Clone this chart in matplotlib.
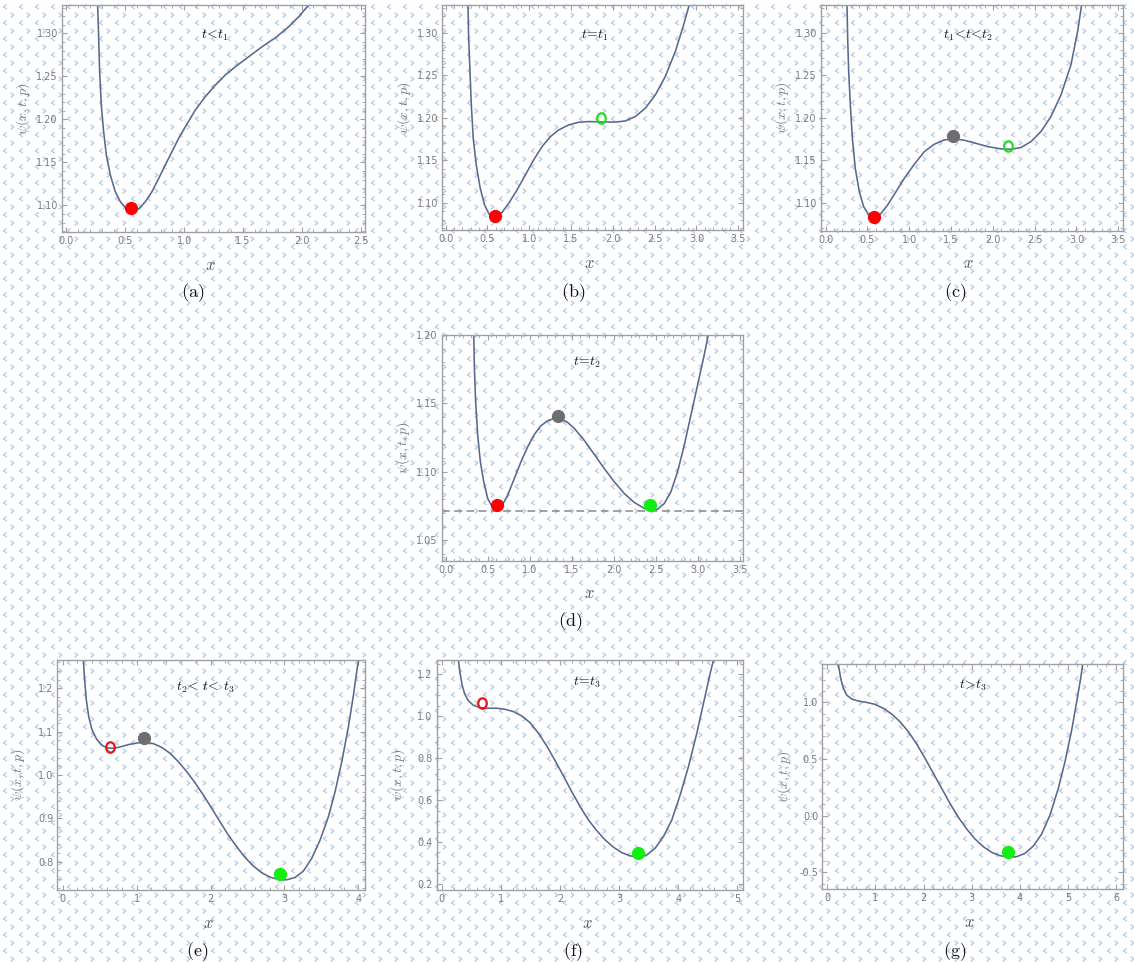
import numpy as np
import matplotlib
matplotlib.use('Agg')
import matplotlib.pyplot as plt
from matplotlib.path import Path
from matplotlib.markers import MarkerStyle
from matplotlib.transforms import Affine2D
from matplotlib.ticker import MultipleLocator, FormatStrFormatter

plt.rcParams['mathtext.fontset'] = 'cm'

W, H = 1134, 963

# psi(x) samples for each stage
xa = [0.265, 0.274, 0.282, 0.296, 0.316, 0.339, 0.373, 0.415, 0.458, 0.500, 0.557,
      0.614, 0.670, 0.727, 0.784, 0.840, 0.897, 0.954, 1.011, 1.095, 1.180, 1.266,
      1.350, 1.436, 1.549, 1.662, 1.776, 1.889, 1.974, 2.059]
ya = [1.3330, 1.2941, 1.2554, 1.2166, 1.1856, 1.1585, 1.1352, 1.1158, 1.1042, 1.0972, 1.0934,
      1.0957, 1.1042, 1.1158, 1.1313, 1.1469, 1.1624, 1.1779, 1.1914, 1.2108, 1.2263, 1.2399,
      1.2515, 1.2612, 1.2728, 1.2844, 1.2949, 1.3077, 1.3193, 1.3330]

xb = [0.267, 0.275, 0.291, 0.307, 0.330, 0.366, 0.414, 0.466, 0.522, 0.594, 0.673,
      0.753, 0.853, 0.952, 1.052, 1.152, 1.252, 1.351, 1.471, 1.591, 1.710, 1.870,
      2.029, 2.149, 2.268, 2.388, 2.508, 2.627, 2.747, 2.847, 2.914]
yb = [1.3334, 1.2940, 1.2547, 1.2153, 1.1760, 1.1445, 1.1170, 1.0973, 1.0863, 1.0835, 1.0886,
      1.0992, 1.1150, 1.1327, 1.1504, 1.1661, 1.1779, 1.1858, 1.1917, 1.1949, 1.1957, 1.1953,
      1.1951, 1.1964, 1.2016, 1.2114, 1.2271, 1.2488, 1.2783, 1.3098, 1.3334]

xc = [0.255, 0.263, 0.275, 0.295, 0.319, 0.354, 0.402, 0.454, 0.522, 0.582, 0.653,
      0.741, 0.841, 0.941, 1.060, 1.180, 1.299, 1.419, 1.539, 1.658, 1.778, 1.938,
      2.097, 2.216, 2.336, 2.456, 2.576, 2.695, 2.815, 2.934, 3.014, 3.062]
yc = [1.3334, 1.2940, 1.2547, 1.2153, 1.1760, 1.1406, 1.1130, 1.0953, 1.0847, 1.0823, 1.0863,
      1.0973, 1.1130, 1.1288, 1.1453, 1.1602, 1.1689, 1.1740, 1.1752, 1.1736, 1.1705, 1.1661,
      1.1634, 1.1630, 1.1650, 1.1720, 1.1839, 1.2016, 1.2271, 1.2626, 1.3019, 1.3334]

xd = [0.333, 0.341, 0.356, 0.380, 0.412, 0.452, 0.499, 0.559, 0.618, 0.677, 0.737,
      0.816, 0.895, 0.975, 1.054, 1.133, 1.212, 1.292, 1.371, 1.450, 1.530, 1.649,
      1.767, 1.886, 2.005, 2.124, 2.243, 2.362, 2.441, 2.521, 2.600, 2.679, 2.758,
      2.838, 2.917, 2.996, 3.075, 3.123]
yd = [1.2000, 1.1756, 1.1512, 1.1268, 1.1073, 1.0927, 1.0805, 1.0737, 1.0727, 1.0761, 1.0829,
      1.0951, 1.1073, 1.1183, 1.1273, 1.1337, 1.1373, 1.1390, 1.1385, 1.1361, 1.1317, 1.1229,
      1.1127, 1.1024, 1.0927, 1.0841, 1.0776, 1.0732, 1.0720, 1.0727, 1.0768, 1.0854, 1.1000,
      1.1195, 1.1415, 1.1634, 1.1854, 1.2000]
level_d = 1.0715

xe = [0.279, 0.297, 0.320, 0.352, 0.397, 0.460, 0.528, 0.604, 0.685, 0.776, 0.889,
      1.001, 1.114, 1.226, 1.339, 1.452, 1.565, 1.678, 1.790, 1.903, 2.016, 2.128,
      2.241, 2.354, 2.467, 2.580, 2.693, 2.805, 2.918, 3.031, 3.144, 3.256, 3.369,
      3.482, 3.595, 3.685, 3.776, 3.866, 3.934, 3.988, 4.006]
ye = [1.265, 1.219, 1.173, 1.1345, 1.1038, 1.0823, 1.0684, 1.0623, 1.0615, 1.0646, 1.0700,
      1.0738, 1.0753, 1.0723, 1.0638, 1.0500, 1.0307, 1.0077, 0.9823, 0.9538, 0.9231, 0.8923,
      0.8616, 0.8347, 0.8101, 0.7901, 0.7747, 0.7647, 0.7593, 0.7585, 0.7639, 0.7785, 0.8078,
      0.8501, 0.9039, 0.9615, 1.0307, 1.1115, 1.1845, 1.2499, 1.265]

xf = [0.281, 0.310, 0.344, 0.389, 0.450, 0.535, 0.648, 0.789, 0.930, 1.071, 1.212,
      1.353, 1.494, 1.635, 1.776, 1.917, 2.058, 2.199, 2.340, 2.481, 2.622, 2.763,
      2.904, 3.045, 3.186, 3.327, 3.468, 3.609, 3.750, 3.891, 4.032, 4.173, 4.314,
      4.427, 4.540, 4.596]
yf = [1.268, 1.205, 1.149, 1.106, 1.074, 1.052, 1.041, 1.038, 1.038, 1.033, 1.022,
      1.001, 0.969, 0.919, 0.858, 0.788, 0.715, 0.640, 0.569, 0.505, 0.454, 0.410,
      0.375, 0.349, 0.334, 0.327, 0.338, 0.370, 0.426, 0.505, 0.624, 0.760, 0.919,
      1.062, 1.205, 1.268]

xg = [0.229, 0.278, 0.334, 0.403, 0.507, 0.645, 0.818, 0.992, 1.165, 1.338, 1.511,
      1.684, 1.858, 2.031, 2.204, 2.377, 2.550, 2.724, 2.897, 3.070, 3.243, 3.416,
      3.590, 3.763, 3.936, 4.109, 4.283, 4.456, 4.629, 4.802, 4.941, 5.080, 5.184,
      5.267, 5.309]
yg = [1.338, 1.212, 1.123, 1.064, 1.029, 1.011, 0.999, 0.982, 0.947, 0.897, 0.829,
      0.741, 0.632, 0.506, 0.373, 0.241, 0.108, -0.015, -0.118, -0.206, -0.274, -0.324,
      -0.353, -0.368, -0.362, -0.333, -0.268, -0.162, 0.005, 0.241, 0.476, 0.756, 1.006,
      1.212, 1.338]

# state markers: (x, y) per kind
red_dots = {'a': (0.552, 1.0972), 'b': (0.594, 1.0847), 'c': (0.582, 1.0835), 'd': (0.610, 1.0756)}
gray_dots = {'c': (1.527, 1.1787), 'd': (1.339, 1.1407), 'e': (1.104, 1.0847)}
green_dots = {'d': (2.430, 1.0756), 'e': (2.940, 0.7716), 'f': (3.327, 0.346), 'g': (3.763, -0.324)}
green_rings = {'b': (1.858, 1.1996), 'c': (2.177, 1.1669)}
red_rings = {'e': (0.640, 1.065), 'f': (0.687, 1.065)}

stage_labels = {'a': r'$t\!<\!t_1$', 'b': r'$t\!=\!t_1$', 'c': r'$t_1\!<\!t\!<\!t_2$',
                'd': r'$t\!=\!t_2$', 'e': r'$t_2\!<\,t\!<\,t_3$', 'f': r'$t\!=\!t_3$',
                'g': r'$t\!>\!t_3$'}

curve_col = '#56698f'
frame_col = '#a0a0a0'
tick_col = '#7a7a7a'

fig = plt.figure(figsize=(W / 100, H / 100), dpi=100)

# light chevron background
bg = fig.add_axes([0, 0, 1, 1], zorder=0)
bg.set_xlim(0, W)
bg.set_ylim(H, 0)
bg.axis('off')
lt = Path([(0.7, 1), (-0.7, 0), (0.7, -1)], [Path.MOVETO, Path.LINETO, Path.LINETO])
gt = Path([(-0.7, 1), (0.7, 0), (-0.7, -1)], [Path.MOVETO, Path.LINETO, Path.LINETO])
gx, gy = np.meshgrid(np.arange(5, W + 8, 16), np.arange(6.7, H + 8, 16))
bg.scatter(gx.ravel(), gy.ravel(), marker=lt, s=11, facecolors='none',
           edgecolors='#bdd1e7', linewidths=1.1)
bg.scatter(gx.ravel() + 7.3, gy.ravel() + 8.3, marker=gt, s=11, facecolors='none',
           edgecolors='#bdd1e7', linewidths=1.1)

ring = MarkerStyle('o', fillstyle='none', transform=Affine2D().scale(0.82, 1.0))


def panel(key, box, x, y, xlim, ylim, xstep, xminor, ystep, yminor, xfmt, yfmt,
          lab_xy, ylab_y, caption_xy):
    l, t, r, b = box
    ax = fig.add_axes([l / W, 1 - b / H, (r - l) / W, (b - t) / H], zorder=1)
    ax.set_facecolor('none')
    ax.plot(x, y, color=curve_col, lw=1.15, zorder=2, solid_joinstyle='round')
    ax.set_xlim(*xlim)
    ax.set_ylim(*ylim)
    ax.xaxis.set_major_locator(MultipleLocator(xstep))
    ax.xaxis.set_minor_locator(MultipleLocator(xminor))
    ax.yaxis.set_major_locator(MultipleLocator(ystep))
    ax.yaxis.set_minor_locator(MultipleLocator(yminor))
    ax.xaxis.set_major_formatter(FormatStrFormatter(xfmt))
    ax.yaxis.set_major_formatter(FormatStrFormatter(yfmt))
    ax.tick_params(which='both', direction='in', top=True, right=True,
                   color=frame_col, labelcolor=tick_col, labelsize=7, pad=3)
    ax.tick_params(which='major', length=3.5, width=0.8)
    ax.tick_params(which='minor', length=2, width=0.6)
    for s in ax.spines.values():
        s.set_color(frame_col)
        s.set_linewidth(1.0)

    if key in red_dots:
        ax.plot(*red_dots[key], 'o', color='#ff0000', ms=8.5, zorder=3)
    if key in gray_dots:
        ax.plot(*gray_dots[key], 'o', color='#6e6e6e', ms=8.5, zorder=3)
    if key in green_dots:
        ax.plot(*green_dots[key], 'o', color='#11ee11', ms=8.5, zorder=3)
    if key in green_rings:
        ax.plot(*green_rings[key], marker=ring, color='#22dd22', ms=7.5, mew=1.6, zorder=3)
    if key in red_rings:
        ax.plot(*red_rings[key], marker=ring, color='#ee1111', ms=7.5, mew=1.6, zorder=3)

    ax.text(lab_xy[0], lab_xy[1], stage_labels[key], transform=ax.transAxes,
            ha='center', va='center', fontsize=10, color='#111111')
    ax.set_xlabel(r'$x$', fontsize=12, color='#555555')
    ax.xaxis.set_label_coords(0.49, -0.105)
    ax.set_ylabel(r'$\psi(x,t,p)$', fontsize=10, color='#777777')
    ax.yaxis.set_label_coords(-0.098, ylab_y)
    fig.text(caption_xy[0] / W, 1 - caption_xy[1] / H, r'$\mathrm{(%s)}$' % key,
             ha='center', va='center', fontsize=13, color='#111111')
    return ax


panel('a', (62, 5, 365, 231.7), xa, ya, (-0.038, 2.538), (1.0693, 1.333),
      0.5, 0.1, 0.05, 0.01, '%.1f', '%.2f', (0.505, 0.868), 0.545, (193, 293))
panel('b', (442.3, 5, 743.3, 230), xb, yb, (-0.04, 3.56), (1.068, 1.333),
      0.5, 0.1, 0.05, 0.01, '%.1f', '%.2f', (0.507, 0.867), 0.545, (573, 293))
panel('c', (821, 5, 1122.7, 230.7), xc, yc, (-0.056, 3.553), (1.067, 1.333),
      0.5, 0.1, 0.05, 0.01, '%.1f', '%.2f', (0.487, 0.867), 0.545, (955, 293))
ax_d = panel('d', (441.7, 335, 743.3, 560.7), xd, yd, (-0.048, 3.54), (1.035, 1.20),
             0.5, 0.1, 0.05, 0.01, '%.1f', '%.2f', (0.482, 0.88), 0.5, (570, 622))
ax_d.axhline(level_d, color='#888888', lw=1.1, ls=(0, (5, 3)), zorder=1)
panel('e', (57.3, 660, 365, 890), xe, ye, (-0.073, 4.09), (0.735, 1.265),
      1, 0.2, 0.1, 0.02, '%d', '%.1f', (0.48, 0.883), 0.5, (197, 952))
panel('f', (436.7, 660, 743.3, 890), xf, yf, (-0.085, 5.10), (0.171, 1.268),
      1, 0.2, 0.2, 0.05, '%d', '%.1f', (0.49, 0.904), 0.5, (573, 952))
panel('g', (822.3, 664, 1122.7, 889.3), xg, yg, (-0.104, 6.14), (-0.65, 1.338),
      1, 0.2, 0.5, 0.1, '%d', '%.1f', (0.502, 0.907), 0.5, (955, 952))

fig.savefig('out.png', dpi=100)
